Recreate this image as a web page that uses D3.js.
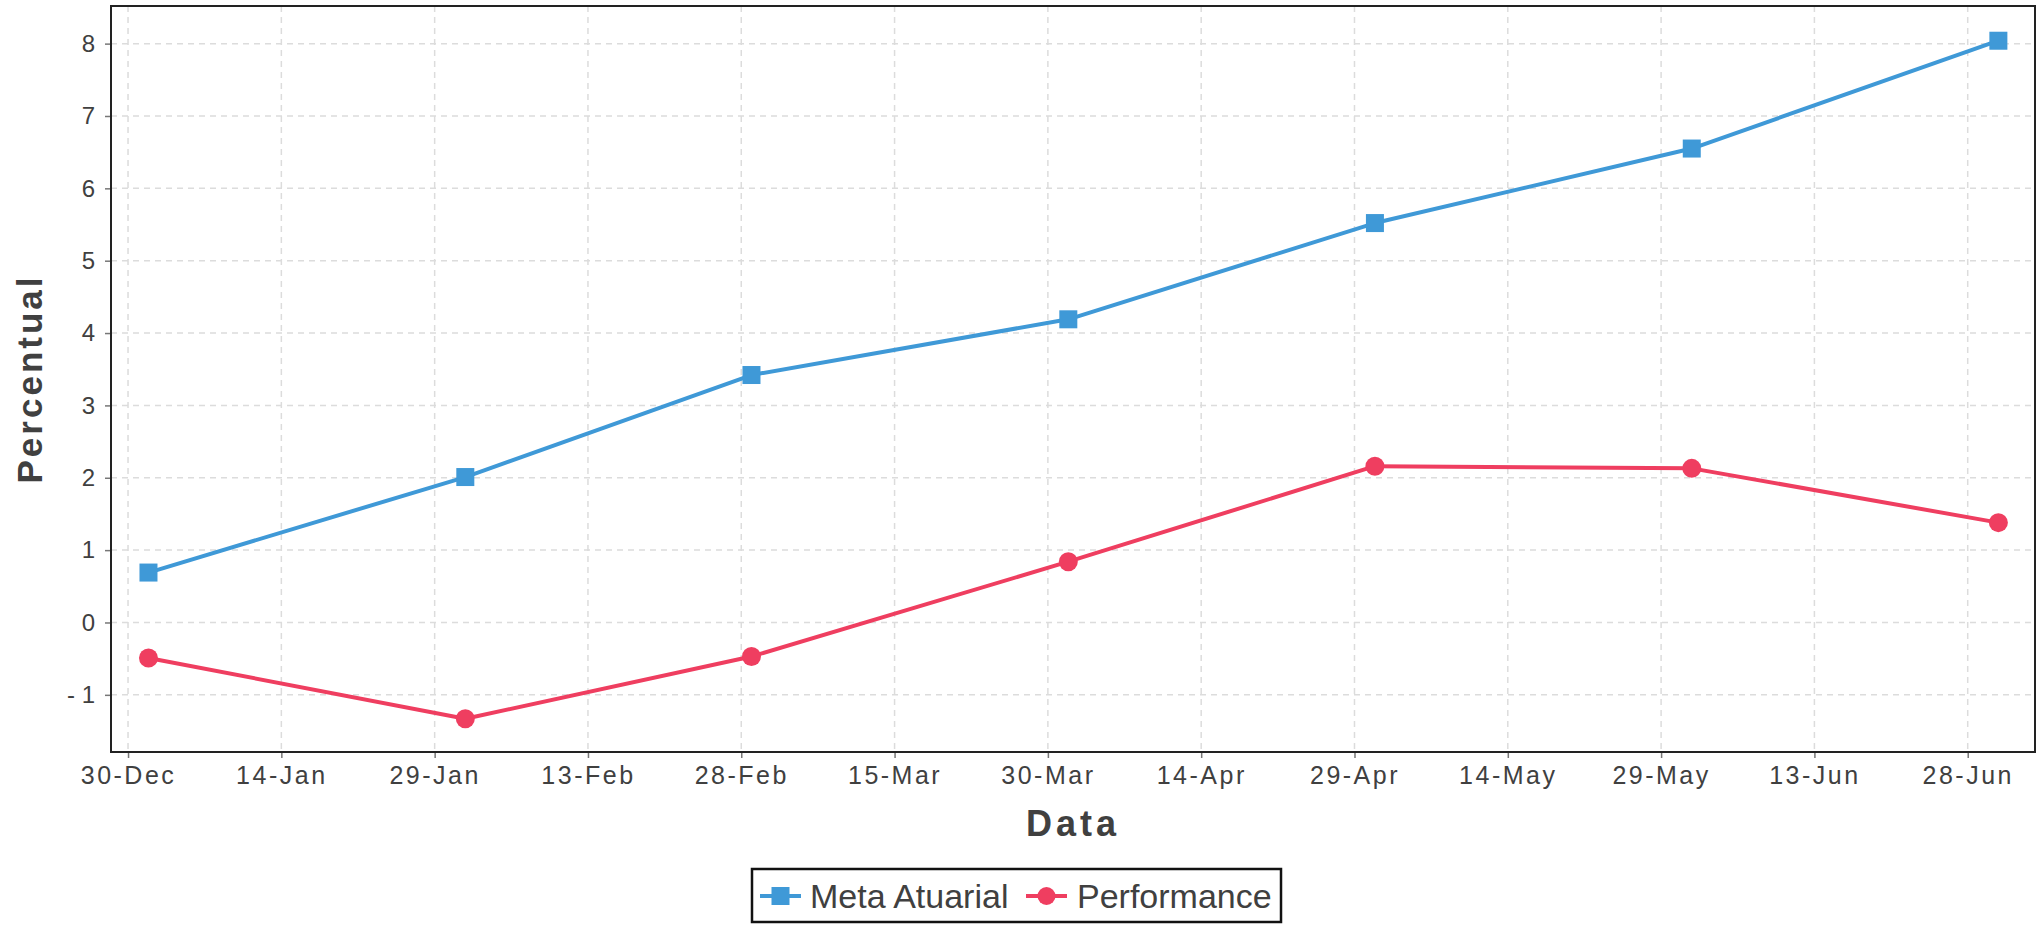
<!DOCTYPE html>
<html>
<head>
<meta charset="utf-8">
<script src="https://cdn.jsdelivr.net/npm/d3@7"></script>
<style>
  html, body { margin: 0; padding: 0; background: #fff; }
  svg { display: block; font-family: "Liberation Sans", Arial, sans-serif; }
</style>
</head>
<body>
<svg id="chart" width="2043" height="925"></svg>
<script>
// ---- data ----
const dates = ["2023-01-01", "2023-02-01", "2023-03-01", "2023-04-01", "2023-05-01", "2023-06-01", "2023-07-01"];
const metaAtuarial = [0.69, 2.01, 3.42, 4.19, 5.52, 6.55, 8.04];
const performance = [-0.49, -1.33, -0.47, 0.84, 2.16, 2.13, 1.38];
const seriesNames = ["Meta Atuarial", "Performance"];
const xTickDates = ["2022-12-30", "2023-01-14", "2023-01-29", "2023-02-13", "2023-02-28", "2023-03-15",
                    "2023-03-30", "2023-04-14", "2023-04-29", "2023-05-14", "2023-05-29", "2023-06-13", "2023-06-28"];
const yTicks = [-1, 0, 1, 2, 3, 4, 5, 6, 7, 8];
const xTitle = "Data";
const yTitle = "Percentual";

// ---- layout ----
const W = 2043, H = 925;
const plot = { left: 111, right: 2035, top: 6, bottom: 752 };
const colors = ["#3f99d7", "#ef3e60"];

const parse = d3.utcParse("%Y-%m-%d");
const start = parse(xTickDates[0]);
const x = d3.scaleUtc()
  .domain([d3.utcHour.offset(start, -40), d3.utcHour.offset(start, 4478)])
  .range([plot.left, plot.right]);
const y = d3.scaleLinear().domain([-1.79, 8.52]).range([plot.bottom, plot.top]);

const svg = d3.select("#chart");
const tickVals = xTickDates.map(parse);

// grid
const grid = svg.append("g");
grid.selectAll("line.v").data(tickVals).join("line")
  .attr("x1", d => x(d)).attr("x2", d => x(d))
  .attr("y1", plot.top).attr("y2", plot.bottom)
  .attr("stroke", "#dcdcdc").attr("stroke-width", 1.5).attr("stroke-dasharray", "6,5");
grid.selectAll("line.h").data(yTicks).join("line")
  .attr("x1", plot.left).attr("x2", plot.right)
  .attr("y1", d => y(d)).attr("y2", d => y(d))
  .attr("stroke", "#dcdcdc").attr("stroke-width", 1.5).attr("stroke-dasharray", "6,5");

// axes
const xAxis = d3.axisBottom(x).tickValues(tickVals).tickFormat(d3.utcFormat("%d-%b")).tickSizeInner(6).tickSizeOuter(0).tickPadding(8);
const gx = svg.append("g").attr("transform", `translate(0,${plot.bottom})`).call(xAxis);
gx.select(".domain").remove();
gx.selectAll(".tick line").attr("stroke", "#777").attr("stroke-width", 1.5);
gx.selectAll(".tick text").attr("fill", "#404040").attr("font-size", 25).attr("letter-spacing", "2.5px")
  .attr("font-family", "'Liberation Sans', Arial, sans-serif");

const yAxis = d3.axisLeft(y).tickValues(yTicks).tickFormat(d => d < 0 ? "- " + Math.abs(d) : String(d)).tickSizeInner(6).tickSizeOuter(0).tickPadding(10);
const gy = svg.append("g").attr("transform", `translate(${plot.left},0)`).call(yAxis);
gy.select(".domain").remove();
gy.selectAll(".tick line").attr("stroke", "#777").attr("stroke-width", 1.5);
gy.selectAll(".tick text").attr("fill", "#404040").attr("font-size", 24)
  .attr("font-family", "'Liberation Sans', Arial, sans-serif");

// frame
svg.append("rect")
  .attr("x", plot.left).attr("y", plot.top)
  .attr("width", plot.right - plot.left).attr("height", plot.bottom - plot.top)
  .attr("fill", "none").attr("stroke", "#222").attr("stroke-width", 2);

// series
const series = [metaAtuarial, performance];
const line = d3.line().x((d, i) => x(parse(dates[i]))).y(d => y(d));
series.forEach((vals, si) => {
  svg.append("path").datum(vals)
    .attr("d", line).attr("fill", "none")
    .attr("stroke", colors[si]).attr("stroke-width", 4).attr("stroke-linejoin", "round");
});
const ms = 18;
svg.append("g").selectAll("rect").data(metaAtuarial).join("rect")
  .attr("x", (d, i) => x(parse(dates[i])) - ms / 2)
  .attr("y", d => y(d) - ms / 2)
  .attr("width", ms).attr("height", ms).attr("fill", colors[0]);
svg.append("g").selectAll("circle").data(performance).join("circle")
  .attr("cx", (d, i) => x(parse(dates[i])))
  .attr("cy", d => y(d)).attr("r", 9.5).attr("fill", colors[1]);

// axis titles
svg.append("text")
  .attr("x", (plot.left + plot.right) / 2).attr("y", 836)
  .attr("text-anchor", "middle").attr("font-size", 36).attr("font-weight", "bold")
  .attr("letter-spacing", "4px").attr("fill", "#404040").text(xTitle);
svg.append("text")
  .attr("transform", `translate(42,${(plot.top + plot.bottom) / 2}) rotate(-90)`)
  .attr("text-anchor", "middle").attr("font-size", 35).attr("font-weight", "bold")
  .attr("letter-spacing", "3px").attr("fill", "#404040").text(yTitle);

// legend
const lg = svg.append("g");
lg.append("rect").attr("x", 752).attr("y", 869).attr("width", 529).attr("height", 53)
  .attr("fill", "#fff").attr("stroke", "#111").attr("stroke-width", 2.5);
const legendItems = [
  { name: seriesNames[0], x0: 760, tx: 810, shape: "square" },
  { name: seriesNames[1], x0: 1026, tx: 1077, shape: "circle" }
];
const ly = 896;
legendItems.forEach((it, i) => {
  lg.append("line").attr("x1", it.x0).attr("x2", it.x0 + 41).attr("y1", ly).attr("y2", ly)
    .attr("stroke", colors[i]).attr("stroke-width", 4);
  if (it.shape === "square") {
    lg.append("rect").attr("x", it.x0 + 20.5 - 9).attr("y", ly - 9).attr("width", 18).attr("height", 18).attr("fill", colors[i]);
  } else {
    lg.append("circle").attr("cx", it.x0 + 20.5).attr("cy", ly).attr("r", 9).attr("fill", colors[i]);
  }
  lg.append("text").attr("x", it.tx).attr("y", ly).attr("dy", "0.35em")
    .attr("font-size", 34).attr("fill", "#404040").text(it.name);
});
</script>
</body>
</html>
